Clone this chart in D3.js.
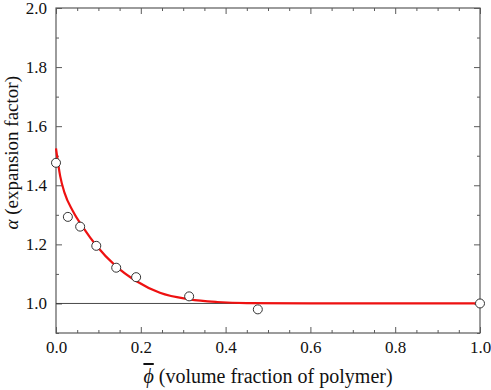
<!DOCTYPE html>
<html>
<head>
<meta charset="utf-8">
<script src="https://cdn.jsdelivr.net/npm/d3@7"></script>
</head>
<body style="margin:0">
<div id="chart"></div>
<script>
(function () {
  var width  = 491;
  var height = 390;
  var serif  = "'Liberation Serif'";

  // measured points
  var phiObs   = [0.0, 0.028, 0.057, 0.095, 0.142, 0.189, 0.314, 0.476, 1.0];
  var alphaObs = [1.476, 1.293, 1.26, 1.195, 1.121, 1.089, 1.024, 0.98, 1.0];

  // fitted curve
  var phiFit   = [0, 0.01, 0.02, 0.04, 0.065, 0.095, 0.14, 0.19, 0.245, 0.315, 0.38, 0.45, 0.6, 0.8, 1.0];
  var alphaFit = [1.525, 1.43, 1.375, 1.312, 1.255, 1.196, 1.128, 1.075, 1.036, 1.014, 1.005, 1.001, 1.0, 1.0, 1.0];

  var xTicks = [0, 0.2, 0.4, 0.6, 0.8, 1.0];
  var yTicks = [1.0, 1.2, 1.4, 1.6, 1.8, 2.0];

  var margin = { top: 8, right: 11, bottom: 57, left: 56 };
  var w = width - margin.left - margin.right;
  var h = height - margin.top - margin.bottom;

  var x = d3.scaleLinear().domain([0, 1]).range([0, w]);
  var y = d3.scaleLinear().domain([0.9, 2.0]).range([h, 0]);

  var svg = d3.select("#chart").append("svg")
    .attr("width", width)
    .attr("height", height);

  var g = svg.append("g")
    .attr("transform", "translate(" + margin.left + "," + margin.top + ")");

  var frameColor = "#5a5a5a";
  var xMinor = d3.range(0, 1.0001, 0.05);
  var yMinor = d3.range(0.9, 2.0001, 0.1);

  function isMajor(d) { return Math.abs(d * 5 - Math.round(d * 5)) < 1e-6; }

  // ticks on all four sides, pointing inward
  function xAxis(gen, pos, dir) {
    var a = g.append("g").attr("transform", "translate(0," + pos + ")");
    a.call(gen.scale(x).tickValues(xMinor).tickSize(-3).tickFormat(""));
    a.selectAll(".tick line").filter(isMajor).attr("y2", dir * 6);
    a.select(".domain").remove();
    a.selectAll("line").attr("stroke", frameColor);
  }
  function yAxis(gen, pos, dir) {
    var a = g.append("g").attr("transform", "translate(" + pos + ",0)");
    a.call(gen.scale(y).tickValues(yMinor).tickSize(-3).tickFormat(""));
    a.selectAll(".tick line").filter(isMajor).attr("x2", dir * 6);
    a.select(".domain").remove();
    a.selectAll("line").attr("stroke", frameColor);
  }
  xAxis(d3.axisBottom(), h, -1);
  xAxis(d3.axisTop(), 0, 1);
  yAxis(d3.axisLeft(), 0, 1);
  yAxis(d3.axisRight(), w, -1);

  // tick labels
  var xl = g.append("g").attr("transform", "translate(0," + h + ")")
    .call(d3.axisBottom(x).tickValues(xTicks).tickSize(0).tickPadding(8).tickFormat(d3.format(".1f")));
  xl.select(".domain").remove();
  xl.selectAll("text")
    .style("font-family", serif)
    .style("font-size", "17px")
    .attr("fill", "#111");

  var yl = g.append("g")
    .call(d3.axisLeft(y).tickValues(yTicks).tickSize(0).tickPadding(9).tickFormat(d3.format(".1f")));
  yl.select(".domain").remove();
  yl.selectAll("text")
    .style("font-family", serif)
    .style("font-size", "17px")
    .attr("fill", "#111");

  // frame
  g.append("rect")
    .attr("width", w).attr("height", h)
    .attr("fill", "none")
    .attr("stroke", frameColor)
    .attr("stroke-width", 1.2);

  // reference line at alpha = 1
  g.append("line")
    .attr("x1", x(0)).attr("x2", x(1))
    .attr("y1", y(1)).attr("y2", y(1))
    .attr("stroke", "#333")
    .attr("stroke-width", 0.9);

  // fitted curve
  var fit = phiFit.map(function (p, i) { return [p, alphaFit[i]]; });
  g.append("path")
    .datum(fit)
    .attr("fill", "none")
    .attr("stroke", "#ee1111")
    .attr("stroke-width", 2.2)
    .attr("d", d3.line()
      .x(function (d) { return x(d[0]); })
      .y(function (d) { return y(d[1]); })
      .curve(d3.curveMonotoneX));

  // observed points
  var obs = phiObs.map(function (p, i) { return [p, alphaObs[i]]; });
  g.append("g").selectAll("circle")
    .data(obs)
    .enter().append("circle")
    .attr("cx", function (d) { return x(d[0]); })
    .attr("cy", function (d) { return y(d[1]); })
    .attr("r", 4.5)
    .attr("fill", "#fff")
    .attr("stroke", "#333")
    .attr("stroke-width", 1);

  // axis titles
  var xt = svg.append("text")
    .attr("x", margin.left + w / 2)
    .attr("y", 383)
    .attr("text-anchor", "middle")
    .attr("fill", "#111")
    .style("font-family", serif)
    .style("font-size", "20px");
  xt.append("tspan")
    .style("font-style", "italic")
    .style("text-decoration", "overline")
    .text("\u03d5");
  xt.append("tspan").text(" (volume fraction of polymer)");

  var yt = svg.append("text")
    .attr("transform", "translate(18," + (margin.top + y(1.51)) + ") rotate(-90)")
    .attr("text-anchor", "middle")
    .attr("fill", "#111")
    .style("font-family", serif)
    .style("font-size", "19px");
  yt.append("tspan").style("font-style", "italic").text("\u03b1");
  yt.append("tspan").text(" (expansion factor)");
})();
</script>
</body>
</html>
